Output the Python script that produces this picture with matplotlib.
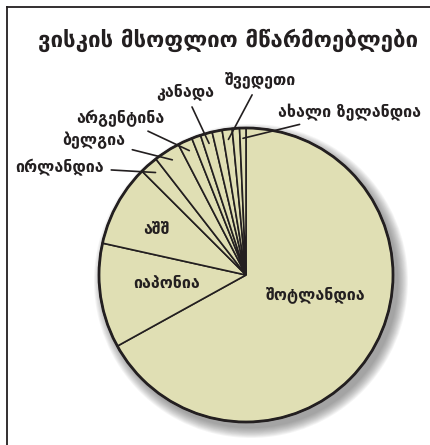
import numpy as np
import matplotlib.pyplot as plt
from matplotlib.patches import Circle
from matplotlib.lines import Line2D

# მონაცემები (პროცენტები, წაკითხული სურათიდან)
countries = ["შოტლანდია", "იაპონია", "აშშ", "ირლანდია", "ბელგია", "არგენტინა",
             "", "კანადა", "", "შვედეთი", "", "ახალი ზელანდია"]
shares = [66.9, 11.5, 9.0, 2.0, 2.9, 1.6, 1.0, 1.3, 1.1, 1.1, 0.8, 0.7]
title = "ვისკის მსოფლიო მწარმოებლები"

W, H = 430, 445
fig = plt.figure(figsize=(W / 100, H / 100), dpi=100)
ax = fig.add_axes([0, 0, 1, 1])

cx, cy, r = 246, H - 275, 147
fill = "#e0dfb4"
edge = "#231f20"

# ჩრდილი
for i in range(12):
    ax.add_patch(Circle((cx + 5, cy - 6), r + 10 - i * 0.9, color="#555555",
                        alpha=0.06, lw=0, zorder=1))

wedges, _ = ax.pie(shares, startangle=90, counterclock=False, center=(cx, cy),
                   radius=r, colors=[fill] * len(shares), frame=True,
                   wedgeprops=dict(edgecolor=edge, linewidth=1.2, zorder=2))
ax.set_xlim(0, W)
ax.set_ylim(0, H)
ax.set_aspect("equal")
ax.axis("off")
ax.add_patch(Circle((cx, cy), r, fill=False, ec=edge, lw=2.0, zorder=3))

font = ["DejaVu Sans"]
fs = 11.5

# დიდი სექტორების წარწერები
inside = {0: (316, 295), 1: (167, 283), 2: (157, 230)}
for i, (px, py) in inside.items():
    ax.text(px, H - py, countries[i], ha="center", va="center", fontsize=fs,
            fontweight="bold", color=edge, family=font, zorder=4)

# პატარა სექტორების წარწერები გამყვანი ხაზებით
outside = {3: (60, 167), 4: (94, 140), 5: (120, 118),
           7: (185, 92), 9: (260, 80), 11: (350, 112)}
for i, (px, py) in outside.items():
    w = wedges[i]
    mid = np.deg2rad((w.theta1 + w.theta2) / 2)
    tx, ty = cx + 0.93 * r * np.cos(mid), cy + 0.93 * r * np.sin(mid)
    ax.annotate(countries[i], xy=(tx, ty), xytext=(px, H - py), ha="center",
                va="center", fontsize=fs, fontweight="bold", color=edge,
                family=font,
                arrowprops=dict(arrowstyle="-", color=edge, lw=1.2,
                                shrinkA=3, shrinkB=0), zorder=4)

ax.text(228, H - 40, title, ha="center", va="center", fontsize=16,
        fontweight="bold", color=edge, family=font)

# ჩარჩო
fig.add_artist(Line2D([7 / W, 7 / W], [0, 1 - 7 / H], color=edge, lw=1.3))
fig.add_artist(Line2D([7 / W, 1], [1 - 7 / H, 1 - 7 / H], color=edge, lw=1.3))

fig.savefig("out.png", dpi=100)
